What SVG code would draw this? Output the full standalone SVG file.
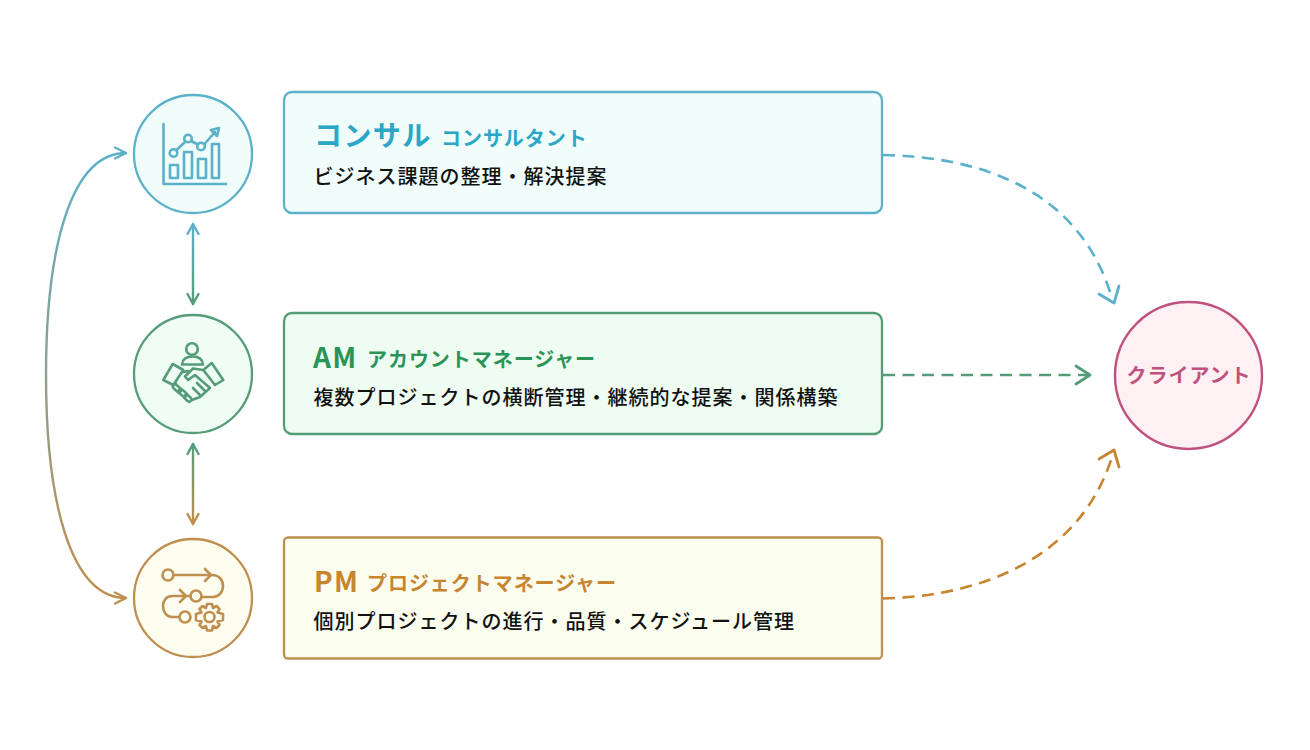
<svg xmlns="http://www.w3.org/2000/svg" width="1310" height="750" viewBox="0 0 1310 750">
<style>
text{font-family:"Noto Sans CJK JP","Noto Sans",sans-serif}
.t{font-size:28px;font-weight:700;letter-spacing:1.4px}
.s{font-size:20px;font-weight:700;letter-spacing:.95px}
.b{font-size:20px;font-weight:500;letter-spacing:1px;fill:#111}
.card,.circ{stroke-width:2.3}
.ic{fill:none;stroke-width:2.6;stroke-linecap:round;stroke-linejoin:round}
.ln{fill:none;stroke-width:2.4;stroke-linecap:round;stroke-linejoin:round}
.d{fill:none;stroke-width:2.6;stroke-dasharray:12 7.500}
.h{fill:none;stroke-width:2.8;stroke-linecap:round;stroke-linejoin:round}
.blue{stroke:#5bb1ca}.green{stroke:#559c78}.orange{stroke:#bf8f50}
</style>
<defs>
<linearGradient id="g1" gradientUnits="userSpaceOnUse" x1="0" y1="153" x2="0" y2="598"><stop offset="0" stop-color="#5bb1ca"/><stop offset="1" stop-color="#c08d4e"/></linearGradient>
<linearGradient id="g2" gradientUnits="userSpaceOnUse" x1="0" y1="224" x2="0" y2="304"><stop offset="0" stop-color="#5bb1ca"/><stop offset="1" stop-color="#559c78"/></linearGradient>
<linearGradient id="g3" gradientUnits="userSpaceOnUse" x1="0" y1="444" x2="0" y2="524"><stop offset="0" stop-color="#559c78"/><stop offset="1" stop-color="#bf8f50"/></linearGradient>
</defs>
<rect width="1310" height="750" fill="#fff"/>
<g id="connectors">
<path class="ln" stroke="url(#g1)" d="M126 153C70 153 46 250 46 375C46 500 70 598 126 598"/>
<path class="ln" stroke="#5bb1ca" d="M115 147.500L126 153L115 158.500"/>
<path class="ln" stroke="#bf8f50" d="M115 592.500L126 598L115 603.500"/>
<path class="ln" stroke="url(#g2)" d="M193 224V304"/>
<path class="ln" stroke="#5bb1ca" d="M187.500 234L193 224L198.500 234"/>
<path class="ln" stroke="#559c78" d="M187.500 294L193 304L198.500 294"/>
<path class="ln" stroke="url(#g3)" d="M193 444V524"/>
<path class="ln" stroke="#559c78" d="M187.500 454L193 444L198.500 454"/>
<path class="ln" stroke="#bf8f50" d="M187.500 514L193 524L198.500 514"/>
<path class="d" stroke="#5bb1ca" d="M883 155C990 157 1080 195 1111 295"/>
<path class="h" stroke="#5bb1ca" d="M1099 294L1114 303L1119 286"/>
<path class="d" stroke="#559c78" d="M883 375H1088"/>
<path class="h" stroke="#559c78" d="M1076 366L1090 375L1076 384"/>
<path class="d" stroke="#c8842f" d="M883 598.500C990 596 1080 553 1111 460"/>
<path class="h" stroke="#c8842f" d="M1099 459L1114 450L1119 467"/>
</g>
<g id="node-consul">
<circle class="circ blue" cx="193" cy="154" r="59" fill="#f0fdfa"/>
<g class="ic blue"><path d="M163.500 124V184H226"/><rect x="170" y="165" width="8" height="13"/><rect x="184" y="152" width="8" height="26"/><rect x="198" y="159" width="8" height="19"/><rect x="212" y="144" width="7" height="34"/><circle cx="173.500" cy="153" r="3.800"/><circle cx="188" cy="138.500" r="3.800"/><circle cx="201" cy="146.500" r="3.800"/><path d="M176.500 150L185.500 141.500M191 141L198 144.500M204.500 144L215 132"/><path d="M211 130L219 128L217 136Z"/></g>
<rect class="card blue" x="284" y="92" width="598" height="121" rx="8" fill="#f0fdfa"/>
<text class="t" x="314" y="146" fill="#2ba6c6">コンサル</text>
<text class="s" x="441" y="146" fill="#2ba6c6">コンサルタント</text>
<text class="b" x="313.500" y="184">ビジネス課題の整理・解決提案</text>
</g>
<g id="node-am">
<circle class="circ green" cx="193" cy="374" r="59" fill="#f0fdf4"/>
<g class="ic green"><circle cx="192" cy="349" r="5.800"/><path d="M182 364.500C182.500 359 187 356.500 192.500 356.500C198 356.500 202.500 359 203 364.500Z"/><path d="M172.700 364L163.300 380L173.300 385L183.300 370ZM211.700 363L223.300 380L215 385L203.300 370Z"/><path d="M183 372L188 371M203 370L193 368.500L185 376.500L188 380L195 375L210 388L200 397L192 400M197 383L205 391M193 388L200 395M173.500 385L176 383.500"/><rect x="172.500" y="386" width="9.500" height="4.500" rx="2.200" transform="rotate(42 177 388)"/><rect x="178" y="391" width="9.500" height="4.500" rx="2.200" transform="rotate(42 183 393)"/><rect x="184" y="396" width="8" height="4.500" rx="2.200" transform="rotate(42 188 398)"/></g>
<rect class="card green" x="284" y="313" width="598" height="121" rx="8" fill="#eefcf1"/>
<text class="t" x="313" y="368" fill="#2a9458">AM</text>
<text class="s" x="367" y="367" fill="#2a9458">アカウントマネージャー</text>
<text class="b" x="313.500" y="405">複数プロジェクトの横断管理・継続的な提案・関係構築</text>
</g>
<g id="node-pm">
<circle class="circ orange" cx="193" cy="598" r="59" fill="#fdfdf0"/>
<g class="ic orange"><circle cx="168" cy="575" r="5.500"/><path d="M174 575H212C219 575 223 580 223 586C223 592 219 597 212 597H202"/><path d="M205 569L211 575L205 581"/><circle cx="196" cy="596" r="5.500"/><path d="M190 596H172C166 596 163 601 163 606C163 612 167 617 172 617H179"/><path d="M180 590L186 596L180 602"/><circle cx="185" cy="617" r="5.500"/><circle cx="209.500" cy="617" r="5"/><path d="M207 604H212L213 608L216.500 606L219.500 609L217.500 612.500L223 614V620L217.500 621.500L219.500 625L216.500 628L213 626L212 630.500H207L206 626L202.500 628L199.500 625L201.500 621.500L196 620V614L201.500 612.500L199.500 609L202.500 606L206 608Z"/></g>
<rect class="card orange" x="284" y="537.500" width="598" height="121" rx="4" fill="#fbfdee"/>
<text class="t" x="314" y="592" fill="#c8842f">PM</text>
<text class="s" x="367" y="591" fill="#c8842f">プロジェクトマネージャー</text>
<text class="b" x="313.500" y="629">個別プロジェクトの進行・品質・スケジュール管理</text>
</g>
<g id="node-client">
<circle cx="1188.500" cy="375.500" r="73.500" fill="#fef0f3" stroke="#c0517f" stroke-width="2.400"/>
<text x="1189" y="383" text-anchor="middle" font-size="20" font-weight="700" letter-spacing="1" fill="#c0517f">クライアント</text>
</g>
</svg>
